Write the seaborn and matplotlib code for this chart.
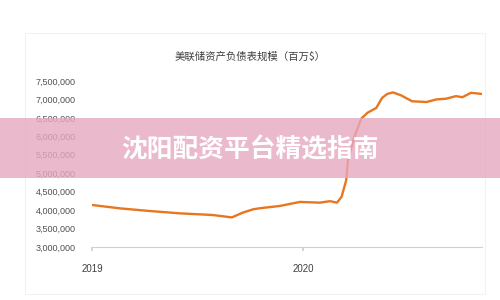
import matplotlib
matplotlib.use("Agg")
import matplotlib.pyplot as plt
from matplotlib.patches import Rectangle
import pandas as pd
import seaborn as sns

# data (millions of USD)
dates = ["2019-01-02", "2019-02-18", "2019-04-06", "2019-06-02", "2019-07-29",
         "2019-08-31", "2019-09-19", "2019-10-07", "2019-10-19", "2019-11-22",
         "2019-12-27", "2020-01-30", "2020-02-17", "2020-02-29", "2020-03-08",
         "2020-03-16", "2020-03-19", "2020-03-30", "2020-04-11", "2020-04-22",
         "2020-05-07", "2020-05-17", "2020-05-26", "2020-06-05", "2020-06-19",
         "2020-07-08", "2020-08-02", "2020-08-19", "2020-09-05", "2020-09-22",
         "2020-10-03", "2020-10-18", "2020-11-05"]
values = [4135000, 4046000, 3980000, 3910000, 3865000,
          3800000, 3930000, 4020000, 4050000, 4110000,
          4220000, 4200000, 4240000, 4200000, 4360000,
          4810000, 5350000, 5980000, 6480000, 6640000,
          6770000, 7040000, 7150000, 7190000, 7110000,
          6950000, 6930000, 7000000, 7020000, 7090000,
          7060000, 7180000, 7150000]
title = "美联储资产负债表规模（百万$）"
banner = "沈阳配资平台精选指南"
yticks = [3000000, 3500000, 4000000, 4500000, 5000000,
          5500000, 6000000, 6500000, 7000000, 7500000]
xtick_dates = ["2019-01-01", "2020-01-01"]
xtick_labels = ["2019", "2020"]

sns.set_theme(style="white")
plt.rcParams["font.family"] = ["Noto Sans CJK SC", "DejaVu Sans"]

df = pd.DataFrame({"date": pd.to_datetime(dates), "value": values})

fig = plt.figure(figsize=(5, 3), dpi=100)
ax = fig.add_axes([0.184, 0.177, 0.78, 0.553])

# faint chart panel border
fig.patches.append(Rectangle((0.05, 0.02), 0.92, 0.87, transform=fig.transFigure,
                             facecolor="none", edgecolor="#f2f2f2", linewidth=0.8))

sns.lineplot(data=df, x="date", y="value", ax=ax, color="#E8761F", linewidth=1.7)

ax.set_ylim(3000000, 7500000)
ax.set_xlim(pd.Timestamp("2019-01-01"), pd.Timestamp("2020-11-06"))
ax.set_yticks(yticks)
ax.set_yticklabels([f"{v:,}" for v in yticks], fontsize=6.5, color="#505050",
                   family=["Liberation Sans", "DejaVu Sans"])
ax.set_xticks(pd.to_datetime(xtick_dates))
ax.set_xticklabels(xtick_labels, fontsize=7, color="#404040",
                   family=["Liberation Sans", "DejaVu Sans"])
ax.tick_params(axis="y", length=0, pad=12)
ax.tick_params(axis="x", length=3, color="#d0d0d0", pad=9, direction="out", bottom=True)
ax.set_xlabel("")
ax.set_ylabel("")
for s in ["top", "right", "left"]:
    ax.spines[s].set_visible(False)
ax.spines["bottom"].set_color("#d0d0d0")
ax.spines["bottom"].set_linewidth(0.8)
ax.grid(False)

fig.text(0.5, 0.81, title, ha="center", va="center", fontsize=7.5, color="#404040",
         fontweight="medium")

# overlay banner
fig.patches.append(Rectangle((0, 0.407), 1, 0.2, transform=fig.transFigure,
                             facecolor="#E6A8C0", alpha=0.8, edgecolor="none", zorder=10))
fig.text(0.5, 0.5, banner, ha="center", va="center", fontsize=18.5, color="white",
         fontweight="bold", zorder=11)

fig.savefig("out.png", dpi=100)
